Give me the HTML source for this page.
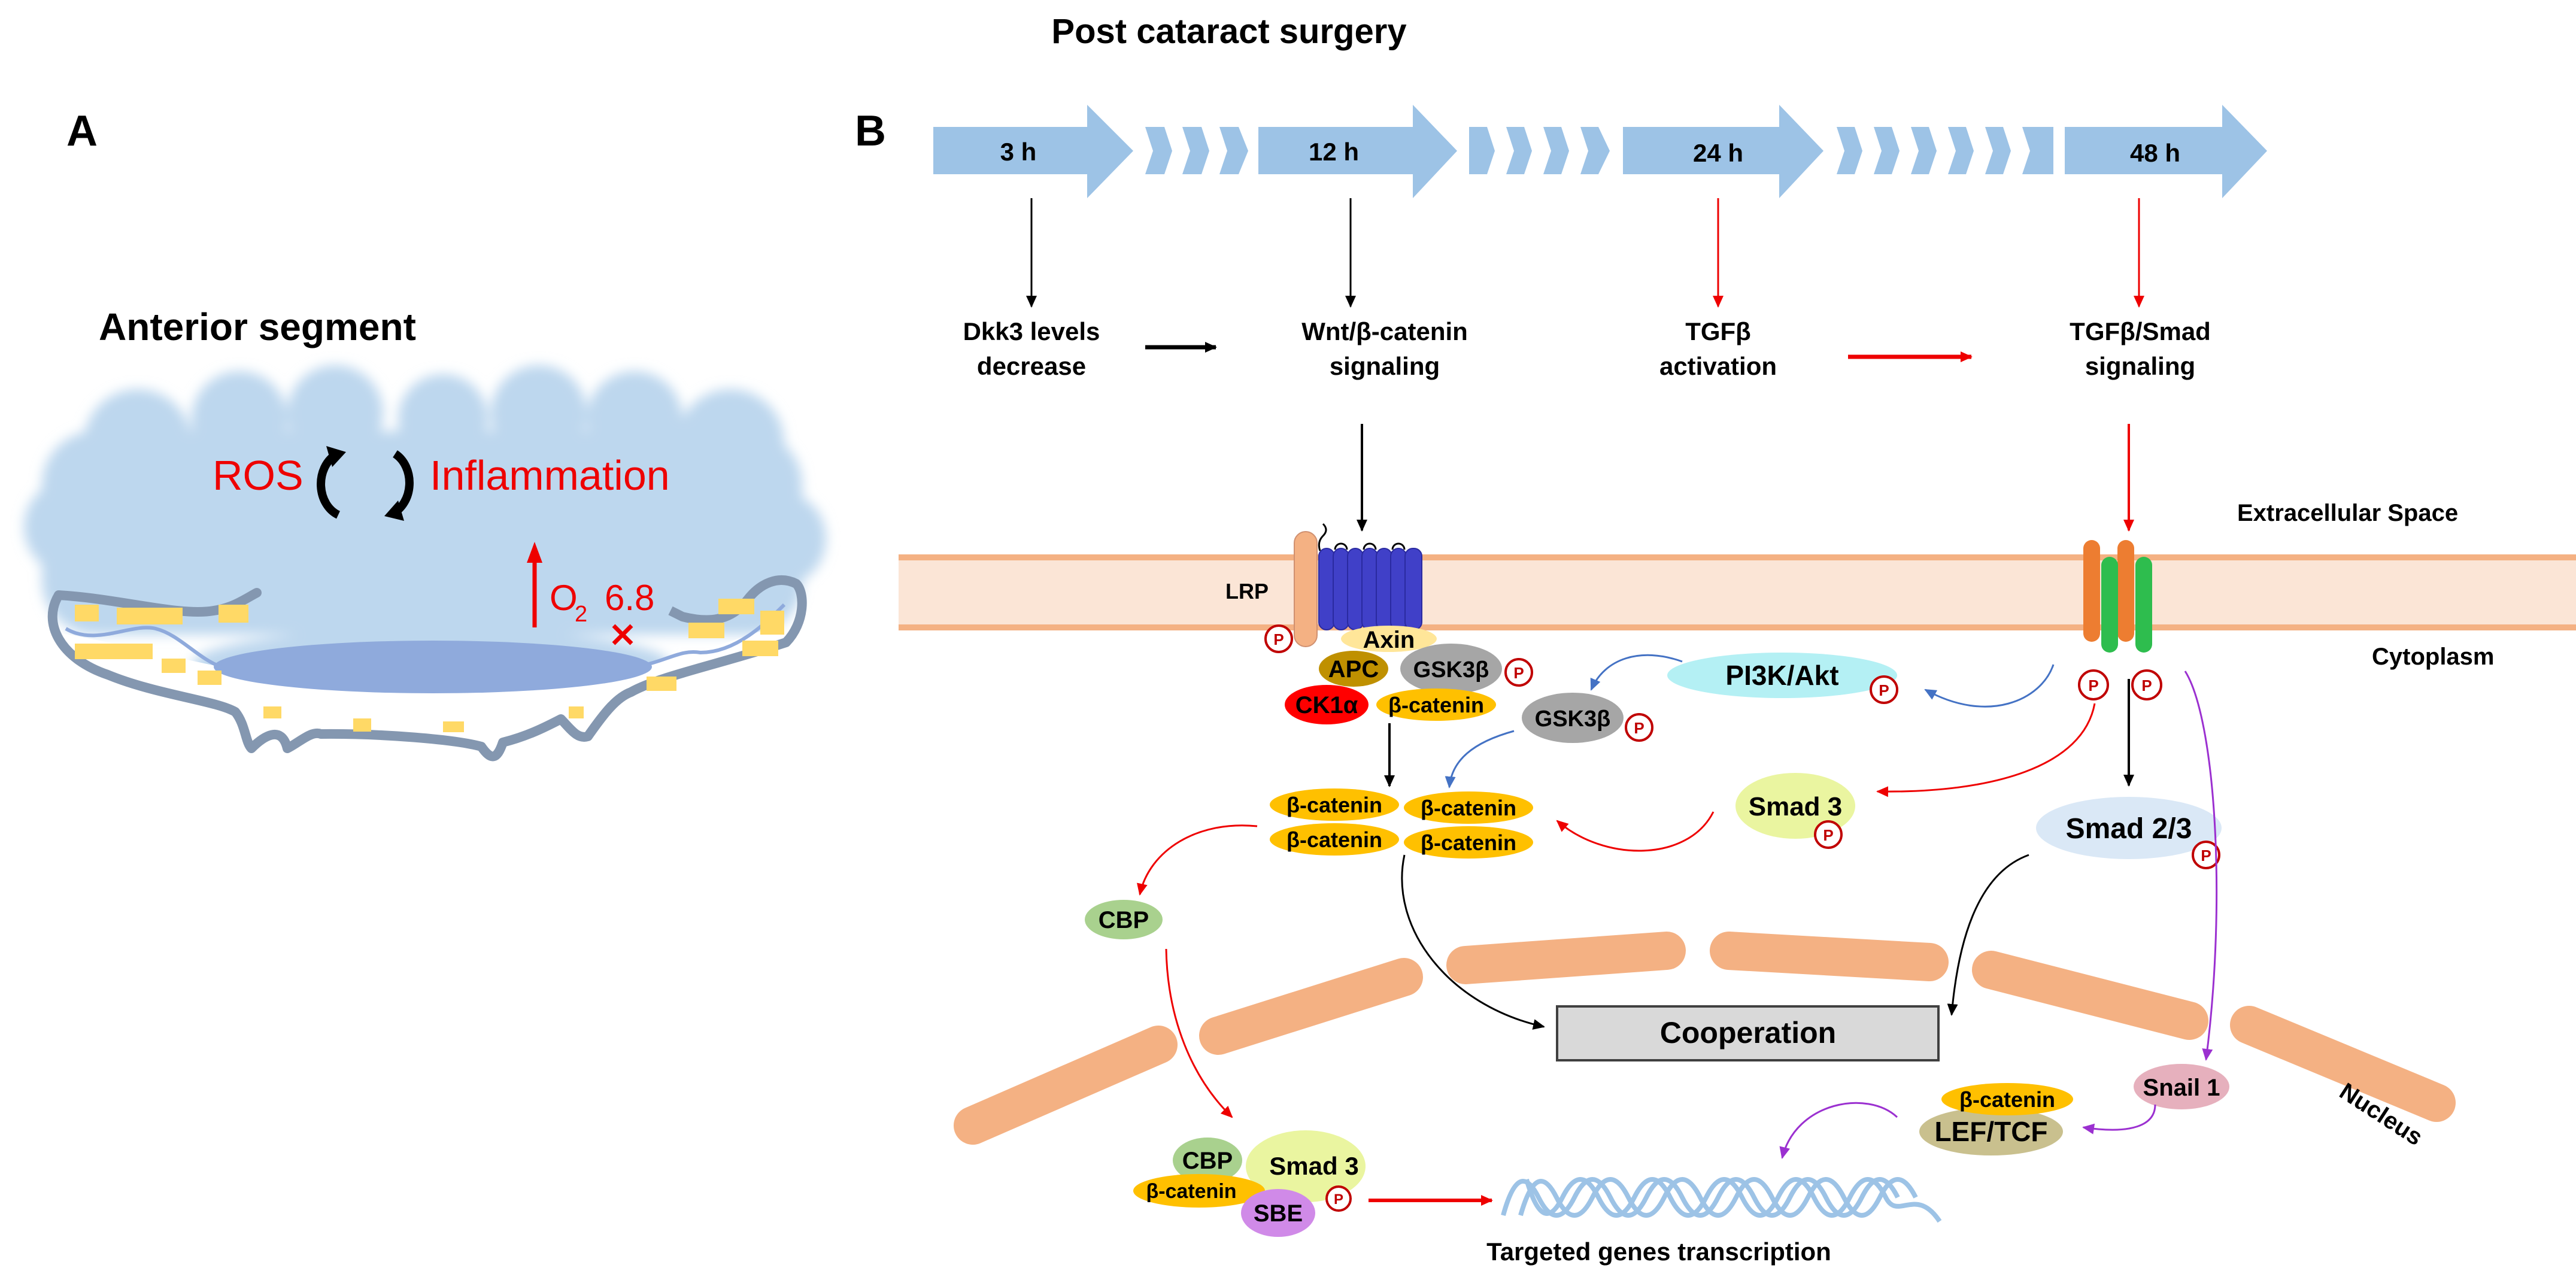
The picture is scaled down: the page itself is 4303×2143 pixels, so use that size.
<!DOCTYPE html>
<html><head><meta charset="utf-8"><style>
html,body{margin:0;padding:0;background:#fff;}
svg{display:block;}
text{font-family:"Liberation Sans",Arial,sans-serif;}
.b{font-weight:bold;}
</style></head><body>
<svg width="4303" height="2143" viewBox="0 0 4303 2143" xmlns="http://www.w3.org/2000/svg">
<defs>
<marker id="akb" markerWidth="22" markerHeight="22" refX="18" refY="11" orient="auto" markerUnits="userSpaceOnUse"><path d="M0,2 L20,11 L0,20 z" fill="#000"/></marker>
<marker id="ar" markerWidth="22" markerHeight="22" refX="18" refY="11" orient="auto" markerUnits="userSpaceOnUse"><path d="M0,2 L20,11 L0,20 z" fill="#e00"/></marker>
<marker id="ab" markerWidth="22" markerHeight="22" refX="18" refY="11" orient="auto" markerUnits="userSpaceOnUse"><path d="M0,2 L20,11 L0,20 z" fill="#4472c4"/></marker>
<marker id="ap" markerWidth="22" markerHeight="22" refX="18" refY="11" orient="auto" markerUnits="userSpaceOnUse"><path d="M0,2 L20,11 L0,20 z" fill="#9b30d0"/></marker>
<filter id="blur" x="-10%" y="-20%" width="120%" height="140%"><feGaussianBlur stdDeviation="10"/></filter>
</defs>

<text x="2053" y="72" font-size="58" class="b" text-anchor="middle">Post cataract surgery</text>
<text x="137" y="243" font-size="72" class="b" text-anchor="middle">A</text>
<text x="1454" y="243" font-size="72" class="b" text-anchor="middle">B</text>

<!-- Panel A -->
<text x="165" y="568" font-size="64" class="b">Anterior segment</text>
<g filter="url(#blur)" fill="#bdd7ee">
<rect x="70" y="720" width="1270" height="340" rx="90"/>
<circle cx="230" cy="740" r="90"/><circle cx="400" cy="700" r="80"/><circle cx="560" cy="690" r="80"/>
<circle cx="740" cy="700" r="75"/><circle cx="900" cy="690" r="80"/><circle cx="1060" cy="700" r="80"/>
<circle cx="1220" cy="740" r="90"/><circle cx="120" cy="880" r="80"/><circle cx="1300" cy="900" r="80"/>
<ellipse cx="720" cy="1110" rx="400" ry="60"/>
</g>
<path d="M89,1056 C100,1100 180,1127 260,1150 C330,1170 380,1180 400,1200 L420,1250 C440,1230 470,1210 480,1250 L536,1226 C640,1225 760,1235 804,1247 L840,1240 L937,1201 L982,1230 L1054,1156 C1150,1120 1250,1100 1313,1073 L1310,1040 C1200,1080 1000,1150 720,1155 C450,1150 250,1080 89,1056 z" fill="#fff"/>
<text x="355" y="818" font-size="70" fill="#e00">ROS</text>
<path d="M560,760 A45,55 0 0 0 565,860" fill="none" stroke="#000" stroke-width="14"/>
<path d="M545,745 L578,755 L555,780 z" fill="#000"/>
<path d="M660,758 A45,55 0 0 1 655,858" fill="none" stroke="#000" stroke-width="14"/>
<path d="M675,870 L642,862 L665,836 z" fill="#000"/>
<text x="718" y="818" font-size="70" fill="#e00">Inflammation</text>
<line x1="893" y1="1048" x2="893" y2="935" stroke="#e00" stroke-width="7"/>
<path d="M880,940 L893,905 L906,940 z" fill="#e00"/>
<text x="918" y="1019" font-size="60" fill="#e00">O</text>
<text x="960" y="1038" font-size="38" fill="#e00">2</text>
<text x="1010" y="1019" font-size="60" fill="#e00">6.8</text>
<path d="M98,994 C200,1000 300,1030 357,1020 C390,1015 410,1000 429,990" fill="none" stroke="#8497b0" stroke-width="16" stroke-linecap="round"/>
<path d="M98,994 C70,1040 100,1100 180,1127 C260,1160 360,1170 393,1189 C410,1210 410,1240 420,1250 C440,1230 470,1210 480,1250 C500,1240 520,1220 536,1226 C640,1225 760,1235 804,1247 C820,1270 830,1270 840,1240 C880,1230 910,1215 937,1201 C955,1220 965,1235 982,1230 C1010,1190 1030,1165 1054,1156 C1100,1130 1200,1110 1313,1073 C1345,1040 1345,990 1330,975 C1300,960 1270,975 1250,1000 C1220,1040 1180,1040 1140,1030 L1120,1020" fill="none" stroke="#8497b0" stroke-width="16" stroke-linejoin="round"/>
<path d="M110,1050 C160,1080 220,1040 260,1050 C300,1060 330,1100 370,1114" fill="none" stroke="#8faadc" stroke-width="6"/>
<path d="M1080,1110 C1120,1100 1140,1085 1170,1090 C1230,1090 1280,1040 1310,1010" fill="none" stroke="#8faadc" stroke-width="6"/>
<ellipse cx="723" cy="1114" rx="366" ry="44" fill="#8faadc"/>
<g fill="#ffd966">
<rect x="125" y="1010" width="40" height="28"/><rect x="195" y="1015" width="110" height="28"/><rect x="365" y="1010" width="50" height="30"/>
<rect x="125" y="1075" width="130" height="26"/><rect x="270" y="1100" width="40" height="24"/><rect x="330" y="1120" width="40" height="24"/>
<rect x="590" y="1200" width="30" height="22"/><rect x="740" y="1205" width="35" height="18"/><rect x="950" y="1180" width="25" height="20"/>
<rect x="1150" y="1040" width="60" height="26"/><rect x="1200" y="1000" width="60" height="26"/><rect x="1240" y="1070" width="60" height="26"/>
<rect x="1080" y="1130" width="50" height="24"/><rect x="440" y="1180" width="30" height="20"/><rect x="1270" y="1020" width="40" height="40"/>
</g>
<path d="M1025,1045 L1055,1075 M1055,1045 L1025,1075" stroke="#e00" stroke-width="7"/>

<!-- Timeline arrows -->
<g fill="#9dc3e6">
<path d="M1559,212 L1816,212 L1816,175 L1893,252 L1816,331 L1816,291 L1559,291 z"/>
<path d="M2102,212 L2360,212 L2360,175 L2434,252 L2360,331 L2360,291 L2102,291 z"/>
<path d="M2711,212 L2972,212 L2972,175 L3046,252 L2972,331 L2972,291 L2711,291 z"/>
<path d="M3449,212 L3712,212 L3712,175 L3787,252 L3712,331 L3712,291 L3449,291 z"/>
<path d="M1913,212 L1945,212 L1958,252 L1945,291 L1913,291 L1926,252 z"/>
<path d="M1975,212 L2007,212 L2020,252 L2007,291 L1975,291 L1988,252 z"/>
<path d="M2037,212 L2069,212 L2085,252 L2069,291 L2037,291 L2050,252 z"/>
<path d="M2454,212 L2484,212 L2497,252 L2484,291 L2454,291 L2454,252 z"/>
<path d="M2516,212 L2546,212 L2559,252 L2546,291 L2516,291 L2529,252 z"/>
<path d="M2578,212 L2608,212 L2621,252 L2608,291 L2578,291 L2591,252 z"/>
<path d="M2640,212 L2670,212 L2689,252 L2670,291 L2640,291 L2653,252 z"/>
<path d="M3068,212 L3098,212 L3111,252 L3098,291 L3068,291 L3081,252 z"/>
<path d="M3130,212 L3160,212 L3173,252 L3160,291 L3130,291 L3143,252 z"/>
<path d="M3192,212 L3222,212 L3235,252 L3222,291 L3192,291 L3205,252 z"/>
<path d="M3254,212 L3284,212 L3297,252 L3284,291 L3254,291 L3267,252 z"/>
<path d="M3316,212 L3346,212 L3359,252 L3346,291 L3316,291 L3329,252 z"/>
<path d="M3378,212 L3430,212 L3430,291 L3378,291 L3391,252 z"/>
</g>
<g font-size="42" class="b" text-anchor="middle">
<text x="1701" y="268">3 h</text><text x="2228" y="268">12 h</text><text x="2870" y="270">24 h</text><text x="3600" y="270">48 h</text>
</g>
<line x1="1723" y1="331" x2="1723" y2="512" stroke="#000" stroke-width="3" marker-end="url(#akb)"/>
<line x1="2256" y1="331" x2="2256" y2="512" stroke="#000" stroke-width="3" marker-end="url(#akb)"/>
<line x1="2870" y1="331" x2="2870" y2="512" stroke="#e00" stroke-width="3" marker-end="url(#ar)"/>
<line x1="3573" y1="331" x2="3573" y2="512" stroke="#e00" stroke-width="3" marker-end="url(#ar)"/>
<g font-size="42" class="b" text-anchor="middle">
<text x="1723" y="568">Dkk3 levels</text><text x="1723" y="626">decrease</text>
<text x="2313" y="568">Wnt/β-catenin</text><text x="2313" y="626">signaling</text>
<text x="2870" y="568">TGFβ</text><text x="2870" y="626">activation</text>
<text x="3575" y="568">TGFβ/Smad</text><text x="3575" y="626">signaling</text>
</g>
<line x1="1913" y1="580" x2="2031" y2="580" stroke="#000" stroke-width="7" marker-end="url(#akb)"/>
<line x1="3087" y1="596" x2="3293" y2="596" stroke="#e00" stroke-width="7" marker-end="url(#ar)"/>
<line x1="2275" y1="708" x2="2275" y2="886" stroke="#000" stroke-width="4" marker-end="url(#akb)"/>
<line x1="3556" y1="708" x2="3556" y2="886" stroke="#e00" stroke-width="4" marker-end="url(#ar)"/>

<!-- Membrane -->
<rect x="1501" y="929" width="2802" height="121" fill="#fbe5d6"/>
<rect x="1501" y="926" width="2802" height="10" fill="#f4b183"/>
<rect x="1501" y="1043" width="2802" height="10" fill="#f4b183"/>
<text x="3737" y="870" font-size="40" class="b">Extracellular Space</text>
<text x="3962" y="1110" font-size="40" class="b">Cytoplasm</text>
<text x="2083" y="1000" font-size="36" class="b" text-anchor="middle">LRP</text>

<rect x="2162" y="888" width="38" height="192" rx="19" fill="#f4b183" stroke="#d09070" stroke-width="2"/>
<path d="M2205,920 q-5,-15 5,-25 q10,-10 0,-20" fill="none" stroke="#000" stroke-width="3"/>
<g fill="#4040c8" stroke="#2a2aa0" stroke-width="2">
<rect x="2203" y="916" width="26" height="136" rx="13"/><rect x="2227" y="916" width="26" height="136" rx="13"/>
<rect x="2251" y="916" width="26" height="136" rx="13"/><rect x="2275" y="916" width="26" height="136" rx="13"/>
<rect x="2299" y="916" width="26" height="136" rx="13"/><rect x="2323" y="916" width="26" height="136" rx="13"/>
<rect x="2347" y="916" width="28" height="136" rx="13"/>
</g>
<g fill="none" stroke="#000" stroke-width="3">
<path d="M2230,918 a10,10 0 0 1 20,0"/><path d="M2278,918 a10,10 0 0 1 20,0"/><path d="M2326,918 a10,10 0 0 1 20,0"/>
</g>

<rect x="3480" y="902" width="28" height="170" rx="14" fill="#ed7d31"/>
<rect x="3537" y="902" width="28" height="170" rx="14" fill="#ed7d31"/>
<rect x="3510" y="930" width="28" height="160" rx="14" fill="#2ebd4e"/>
<rect x="3567" y="930" width="28" height="160" rx="14" fill="#2ebd4e"/>

<!-- Destruction complex -->
<ellipse cx="2320" cy="1067" rx="80" ry="22" fill="#ffe699"/>
<text x="2320" y="1082" font-size="40" class="b" text-anchor="middle">Axin</text>
<ellipse cx="2261" cy="1117" rx="58" ry="30" fill="#bf9000"/>
<text x="2261" y="1131" font-size="40" class="b" text-anchor="middle">APC</text>
<ellipse cx="2424" cy="1117" rx="85" ry="42" fill="#a6a6a6"/>
<text x="2424" y="1131" font-size="38" class="b" text-anchor="middle">GSK3β</text>
<ellipse cx="2216" cy="1177" rx="70" ry="33" fill="#ff0000"/>
<text x="2216" y="1191" font-size="40" class="b" text-anchor="middle">CK1α</text>
<ellipse cx="2399" cy="1177" rx="100" ry="27" fill="#ffc000"/>
<text x="2399" y="1190" font-size="36" class="b" text-anchor="middle">β-catenin</text>
<ellipse cx="2627" cy="1199" rx="85" ry="42" fill="#a6a6a6"/>
<text x="2627" y="1213" font-size="38" class="b" text-anchor="middle">GSK3β</text>
<ellipse cx="2977" cy="1128" rx="192" ry="38" fill="#b4f0f4"/>
<text x="2977" y="1144" font-size="46" class="b" text-anchor="middle">PI3K/Akt</text>

<g fill="#ffc000">
<ellipse cx="2229" cy="1344" rx="108" ry="27"/><ellipse cx="2453" cy="1349" rx="108" ry="27"/>
<ellipse cx="2229" cy="1402" rx="108" ry="27"/><ellipse cx="2453" cy="1407" rx="108" ry="27"/>
</g>
<g font-size="36" class="b" text-anchor="middle">
<text x="2229" y="1357">β-catenin</text><text x="2453" y="1362">β-catenin</text>
<text x="2229" y="1415">β-catenin</text><text x="2453" y="1420">β-catenin</text>
</g>

<ellipse cx="1877" cy="1536" rx="65" ry="33" fill="#a9d18e"/>
<text x="1877" y="1550" font-size="40" class="b" text-anchor="middle">CBP</text>
<ellipse cx="2999" cy="1346" rx="100" ry="55" fill="#eaf5a0"/>
<text x="2999" y="1362" font-size="44" class="b" text-anchor="middle">Smad 3</text>
<ellipse cx="3556" cy="1383" rx="155" ry="52" fill="#dae8f6"/>
<text x="3556" y="1400" font-size="48" class="b" text-anchor="middle">Smad 2/3</text>

<!-- P circles -->
<g fill="#fff" stroke="#c00000" stroke-width="4">
<circle cx="2136" cy="1067" r="22"/><circle cx="2537" cy="1123" r="22"/><circle cx="2738" cy="1215" r="22"/>
<circle cx="3147" cy="1152" r="22"/><circle cx="3497" cy="1144" r="24"/><circle cx="3586" cy="1144" r="24"/>
<circle cx="3054" cy="1394" r="22"/><circle cx="3685" cy="1428" r="22"/>
</g>
<g font-size="26" class="b" fill="#c00000" text-anchor="middle">
<text x="2136" y="1077">P</text><text x="2537" y="1133">P</text><text x="2738" y="1225">P</text>
<text x="3147" y="1162">P</text><text x="3497" y="1154">P</text><text x="3586" y="1154">P</text>
<text x="3054" y="1404">P</text><text x="3685" y="1438">P</text>
</g>

<line x1="2321" y1="1208" x2="2321" y2="1313" stroke="#000" stroke-width="4" marker-end="url(#akb)"/>
<path d="M2529,1221 C2460,1240 2425,1270 2421,1315" fill="none" stroke="#4472c4" stroke-width="3" marker-end="url(#ab)"/>
<path d="M2810,1105 C2740,1080 2680,1100 2658,1152" fill="none" stroke="#4472c4" stroke-width="3" marker-end="url(#ab)"/>
<path d="M3430,1110 C3410,1170 3320,1210 3216,1152" fill="none" stroke="#4472c4" stroke-width="3" marker-end="url(#ab)"/>
<line x1="3556" y1="1134" x2="3556" y2="1312" stroke="#000" stroke-width="4" marker-end="url(#akb)"/>
<path d="M3499,1175 C3480,1280 3330,1325 3136,1322" fill="none" stroke="#e00" stroke-width="3" marker-end="url(#ar)"/>
<path d="M2862,1356 C2820,1440 2680,1440 2601,1371" fill="none" stroke="#e00" stroke-width="3" marker-end="url(#ar)"/>
<path d="M2100,1380 C2000,1370 1920,1420 1904,1494" fill="none" stroke="#e00" stroke-width="3" marker-end="url(#ar)"/>
<path d="M1948,1585 C1950,1700 1990,1800 2058,1866" fill="none" stroke="#e00" stroke-width="3" marker-end="url(#ar)"/>
<path d="M3650,1121 C3700,1200 3720,1500 3685,1770" fill="none" stroke="#9b30d0" stroke-width="3" marker-end="url(#ap)"/>
<path d="M2346,1428 C2320,1550 2420,1680 2579,1715" fill="none" stroke="#000" stroke-width="3" marker-end="url(#akb)"/>
<path d="M3389,1428 C3300,1460 3270,1580 3260,1695" fill="none" stroke="#000" stroke-width="3" marker-end="url(#akb)"/>

<g stroke="#f4b183" stroke-width="64" stroke-linecap="round">
<line x1="1625" y1="1880" x2="1935" y2="1745"/>
<line x1="2035" y1="1730" x2="2345" y2="1632"/>
<line x1="2448" y1="1612" x2="2784" y2="1588"/>
<line x1="2888" y1="1588" x2="3223" y2="1607"/>
<line x1="3326" y1="1620" x2="3657" y2="1705"/>
<line x1="3757" y1="1712" x2="4070" y2="1842"/>
</g>
<text x="3905" y="1830" font-size="40" class="b" transform="rotate(33 3905 1830)">Nucleus</text>

<rect x="2601" y="1681" width="637" height="90" fill="#d9d9d9" stroke="#404040" stroke-width="4"/>
<text x="2920" y="1742" font-size="50" class="b" text-anchor="middle">Cooperation</text>

<ellipse cx="3644" cy="1815" rx="80" ry="38" fill="#e6b0bd"/>
<text x="3644" y="1830" font-size="40" class="b" text-anchor="middle">Snail 1</text>
<ellipse cx="3326" cy="1890" rx="120" ry="40" fill="#c9c08e"/>
<text x="3326" y="1906" font-size="46" class="b" text-anchor="middle">LEF/TCF</text>
<ellipse cx="3353" cy="1836" rx="110" ry="27" fill="#ffc000"/>
<text x="3353" y="1849" font-size="36" class="b" text-anchor="middle">β-catenin</text>
<path d="M3600,1845 C3600,1880 3560,1895 3480,1883" fill="none" stroke="#9b30d0" stroke-width="3" marker-end="url(#ap)"/>
<path d="M3169,1866 C3120,1820 3000,1840 2977,1934" fill="none" stroke="#9b30d0" stroke-width="3" marker-end="url(#ap)"/>

<g fill="none" stroke="#9dc3e6" stroke-width="8">
<path d="M2511,2030 C2530,1960 2550,1960 2570,2000 S2610,2040 2630,2000 S2670,1960 2690,2000 S2730,2040 2750,2000 S2790,1960 2810,2000 S2850,2040 2870,2000 S2910,1960 2930,2000 S2970,2040 2990,2000 S3030,1960 3050,2000 S3090,2040 3110,2000 S3150,1960 3170,2000"/>
<path d="M2540,2030 C2560,1960 2580,1960 2600,2000 S2640,2040 2660,2000 S2700,1960 2720,2000 S2760,2040 2780,2000 S2820,1960 2840,2000 S2880,2040 2900,2000 S2940,1960 2960,2000 S3000,2040 3020,2000 S3060,1960 3080,2000 S3120,2040 3140,2000 S3180,1960 3200,2000"/>
<path d="M2550,1970 C2570,2040 2590,2040 2610,2000 S2650,1960 2670,2000 S2710,2040 2730,2000 S2770,1960 2790,2000 S2830,2040 2850,2000 S2890,1960 2910,2000 S2950,2040 2970,2000 S3010,1960 3030,2000 S3070,2040 3090,2000 S3130,1960 3150,2000 S3200,1980 3240,2040"/>
</g>
<text x="2771" y="2105" font-size="42" class="b" text-anchor="middle">Targeted genes transcription</text>

<ellipse cx="2181" cy="1948" rx="100" ry="60" fill="#eaf5a0"/>
<ellipse cx="2017" cy="1938" rx="58" ry="38" fill="#a9d18e"/>
<ellipse cx="2003" cy="1989" rx="110" ry="28" fill="#ffc000"/>
<ellipse cx="2135" cy="2026" rx="62" ry="40" fill="#d08ae8"/>
<text x="2017" y="1952" font-size="40" class="b" text-anchor="middle">CBP</text>
<text x="2195" y="1962" font-size="42" class="b" text-anchor="middle">Smad 3</text>
<text x="1990" y="2001" font-size="34" class="b" text-anchor="middle">β-catenin</text>
<text x="2135" y="2040" font-size="40" class="b" text-anchor="middle">SBE</text>
<circle cx="2236" cy="2002" r="20" fill="#fff" stroke="#c00000" stroke-width="4"/>
<text x="2236" y="2011" font-size="24" class="b" fill="#c00000" text-anchor="middle">P</text>
<line x1="2286" y1="2005" x2="2492" y2="2005" stroke="#e00" stroke-width="6" marker-end="url(#ar)"/>
</svg>
</body></html>
